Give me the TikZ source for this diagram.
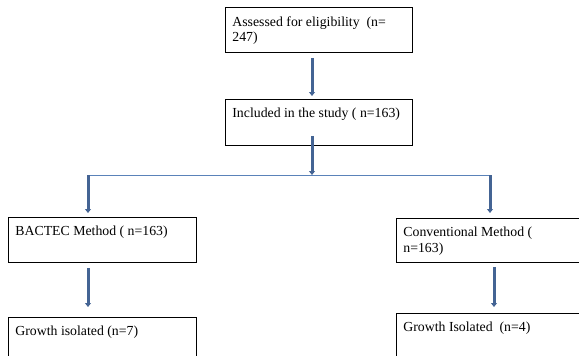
\documentclass[tikz,border=0pt]{standalone}
\usepackage{fontspec}
\setmainfont{Liberation Serif}
\usetikzlibrary{arrows.meta}
\definecolor{arrowblue}{RGB}{68,100,148}
\definecolor{lineblue}{RGB}{90,130,185}
\newcommand{\flowtext}[3]{\parbox[t][#2][t]{#1}{\vspace*{4pt}\raggedright #3}}

\begin{document}
\begin{tikzpicture}[x=1pt, y=-1pt,
    flowbox/.style={draw, line width=0.8pt, anchor=north west, inner xsep=7pt, inner ysep=5pt,
        font=\fontsize{13.8}{15.5}\selectfont},
    flowarrow/.style={draw=arrowblue, line width=3pt,
        -{Triangle[width=6pt, length=4pt]}}]
    \useasboundingbox (0, 0) rectangle (579, 356);
    \clip (0, 0) rectangle (579, 356);
    % Boxes
    \node[flowbox] (assess) at (225, 7) {\flowtext{173pt}{35pt}{Assessed for eligibility~ (n=\\247)}};
    \node[flowbox] (included) at (225, 99) {\flowtext{173pt}{36pt}{Included in the study ( n=163)}};
    \node[flowbox] (bactec) at (8, 217) {\flowtext{174pt}{35pt}{BACTEC Method ( n=163)}};
    \node[flowbox] (conv) at (396, 218) {\flowtext{200pt}{34pt}{Conventional Method (\\n=163)}};
    \node[flowbox] (growthA) at (8, 317) {\flowtext{174pt}{40pt}{Growth isolated (n=7)}};
    \node[flowbox] (growthB) at (396, 313) {\flowtext{200pt}{40pt}{Growth Isolated~ (n=4)}};
    % Split line
    \coordinate (split) at (312, 175);
    \coordinate (splitL) at (88, 175);
    \coordinate (splitR) at (490, 175);
    \coordinate (colR) at (494, 290);
    \draw[lineblue, thin] (splitL) -- (splitR);
    % Arrows
    \draw[flowarrow, shorten <=5pt, shorten >=3pt] (assess.south -| split) -- (included.north -| split);
    \draw[flowarrow, shorten <=-10pt] (included.south -| split) -- (split);
    \draw[flowarrow, shorten >=4pt] (splitL) -- (bactec.north -| splitL);
    \draw[flowarrow, shorten >=5pt] (splitR) -- (conv.north -| splitR);
    \draw[flowarrow, shorten <=5pt, shorten >=10pt] (bactec.south -| splitL) -- (growthA.north -| splitL);
    \draw[flowarrow, shorten <=4pt, shorten >=6pt] (conv.south -| colR) -- (growthB.north -| colR);
\end{tikzpicture}
\end{document}
